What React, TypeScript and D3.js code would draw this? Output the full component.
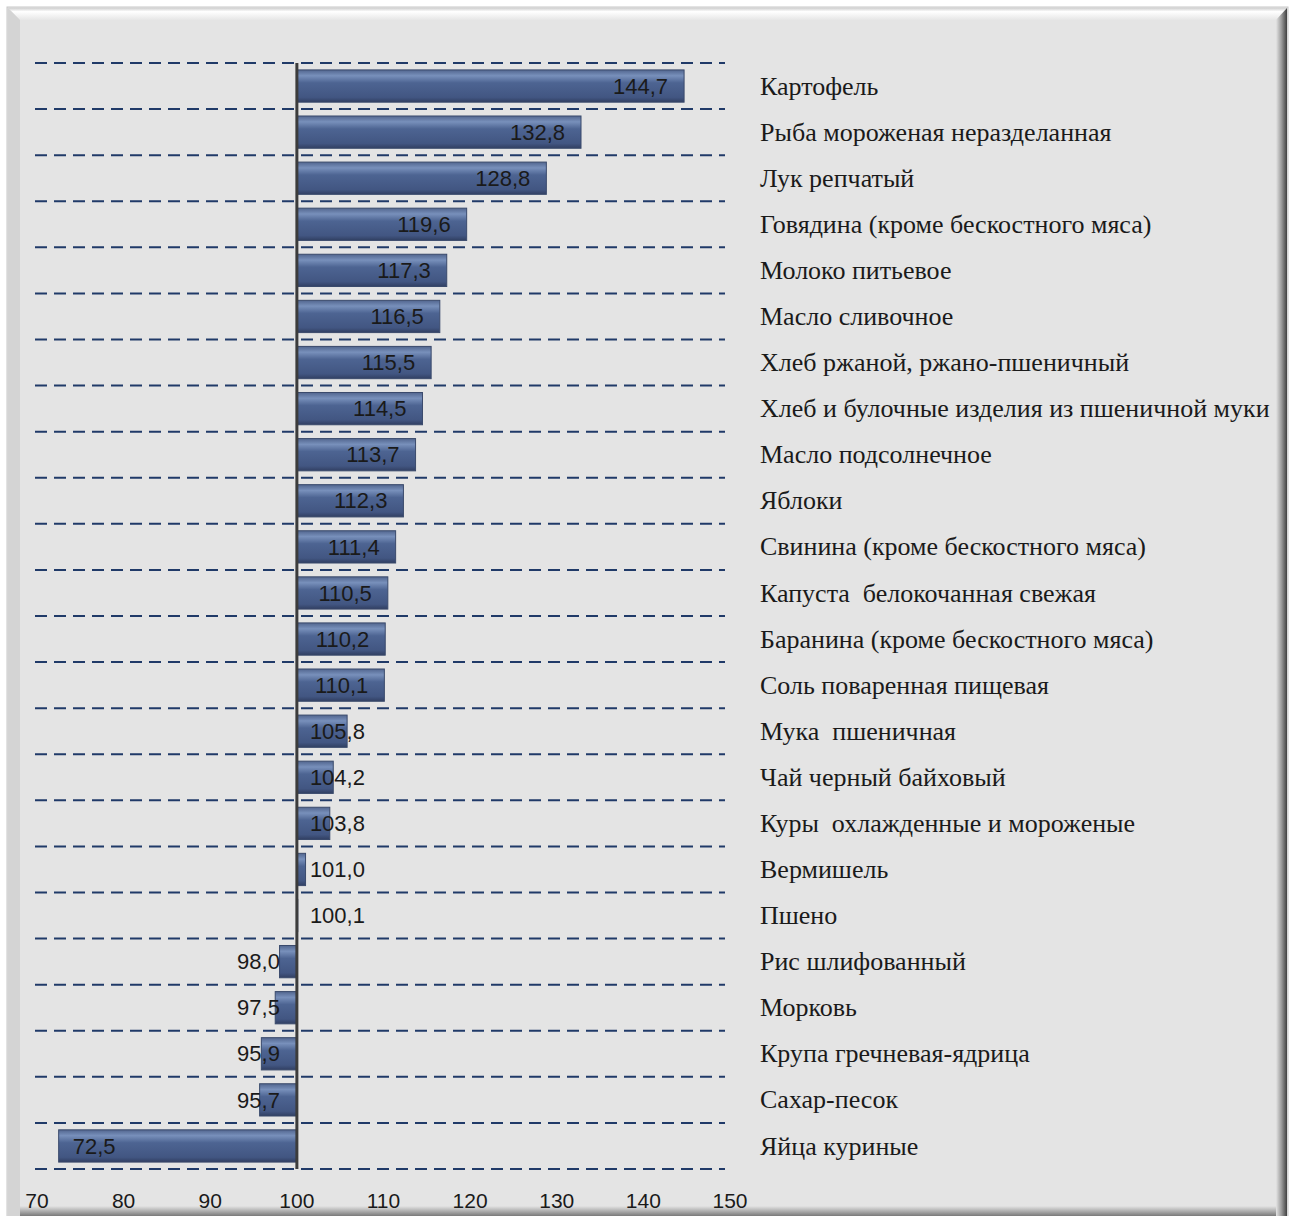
import React, { useEffect, useRef } from "react";
import * as d3 from "d3";

// categories, top to bottom
const categories = [
  "Картофель",
  "Рыба мороженая неразделанная",
  "Лук репчатый",
  "Говядина (кроме бескостного мяса)",
  "Молоко питьевое",
  "Масло сливочное",
  "Хлеб ржаной, ржано-пшеничный",
  "Хлеб и булочные изделия из пшеничной муки",
  "Масло подсолнечное",
  "Яблоки",
  "Свинина (кроме бескостного мяса)",
  "Капуста  белокочанная свежая",
  "Баранина (кроме бескостного мяса)",
  "Соль поваренная пищевая",
  "Мука  пшеничная",
  "Чай черный байховый",
  "Куры  охлажденные и мороженые",
  "Вермишель",
  "Пшено",
  "Рис шлифованный",
  "Морковь",
  "Крупа гречневая-ядрица",
  "Сахар-песок",
  "Яйца куриные",
];

const values = [
  144.7, 132.8, 128.8, 119.6, 117.3, 116.5, 115.5, 114.5, 113.7, 112.3, 111.4,
  110.5, 110.2, 110.1, 105.8, 104.2, 103.8, 101.0, 100.1, 98.0, 97.5, 95.9, 95.7,
  72.5,
];

const xTicks = [70, 80, 90, 100, 110, 120, 130, 140, 150];

const W = 1295;
const H = 1216;

export default function App() {
  const ref = useRef<SVGSVGElement>(null);

  useEffect(() => {
    const svg = d3.select(ref.current);
    svg.selectAll("*").remove();

    const defs = svg.append("defs");
    const grad = defs
      .append("linearGradient")
      .attr("id", "barGrad")
      .attr("x1", 0)
      .attr("y1", 0)
      .attr("x2", 0)
      .attr("y2", 1);
    grad.append("stop").attr("offset", "0%").attr("stop-color", "#52668f");
    grad.append("stop").attr("offset", "18%").attr("stop-color", "#7890bb");
    grad.append("stop").attr("offset", "40%").attr("stop-color", "#4d6492");
    grad.append("stop").attr("offset", "85%").attr("stop-color", "#425682");
    grad.append("stop").attr("offset", "100%").attr("stop-color", "#313f62");

    const topBev = defs
      .append("linearGradient")
      .attr("id", "topBev")
      .attr("x1", 0)
      .attr("y1", 0)
      .attr("x2", 0)
      .attr("y2", 1);
    topBev.append("stop").attr("offset", "0%").attr("stop-color", "#d0d0d0");
    topBev.append("stop").attr("offset", "30%").attr("stop-color", "#ffffff");
    topBev.append("stop").attr("offset", "100%").attr("stop-color", "#e6e6e6");

    const rightBev = defs
      .append("linearGradient")
      .attr("id", "rightBev")
      .attr("x1", 0)
      .attr("y1", 0)
      .attr("x2", 1)
      .attr("y2", 0);
    rightBev.append("stop").attr("offset", "0%").attr("stop-color", "#e4e4e4");
    rightBev.append("stop").attr("offset", "50%").attr("stop-color", "#9a9a9a");
    rightBev.append("stop").attr("offset", "100%").attr("stop-color", "#404040");

    const bottomBev = defs
      .append("linearGradient")
      .attr("id", "bottomBev")
      .attr("x1", 0)
      .attr("y1", 0)
      .attr("x2", 0)
      .attr("y2", 1);
    bottomBev.append("stop").attr("offset", "0%").attr("stop-color", "#e4e4e4");
    bottomBev.append("stop").attr("offset", "100%").attr("stop-color", "#7a7a7a");

    // frame
    svg.append("rect").attr("width", W).attr("height", H).attr("fill", "#ffffff");
    svg
      .append("rect")
      .attr("x", 7)
      .attr("y", 7)
      .attr("width", 1281)
      .attr("height", 1215)
      .attr("fill", "#e4e4e4")
      .attr("stroke", "#c8c8c8");
    svg.append("path").attr("d", "M8,8 L1287,8 L1276,20 L20,20 Z").attr("fill", "url(#topBev)");
    svg.append("path").attr("d", "M8,8 L20,20 L20,1216 L8,1216 Z").attr("fill", "#d4d4d4");
    svg.append("path").attr("d", "M1287,8 L1287,1216 L1276,1216 L1276,20 Z").attr("fill", "url(#rightBev)");
    svg.append("rect").attr("x", 20).attr("y", 1206).attr("width", 1256).attr("height", 10).attr("fill", "url(#bottomBev)");

    const x = d3.scaleLinear().domain([70, 150]).range([37, 730]);
    const y = d3
      .scaleBand<string>()
      .domain(categories)
      .range([63, 1169])
      .paddingInner(0.3)
      .paddingOuter(0.15);
    const step = y.step();

    // grid lines
    const gridYs = categories.map((c) => (y(c) as number) - step * 0.15);
    gridYs.push(1169);
    svg
      .append("g")
      .selectAll("line")
      .data(gridYs)
      .enter()
      .append("line")
      .attr("x1", x(70) - 2)
      .attr("x2", x(150) - 5)
      .attr("y1", (d) => d)
      .attr("y2", (d) => d)
      .attr("stroke", "#203a68")
      .attr("stroke-width", 2)
      .attr("stroke-dasharray", "12 7");

    // bars
    const data = categories.map((c, i) => ({ c, v: values[i] }));
    const bars = svg.append("g");
    bars
      .selectAll("rect")
      .data(data)
      .enter()
      .append("rect")
      .attr("x", (d) => Math.min(x(d.v), x(100)))
      .attr("y", (d) => y(d.c) as number)
      .attr("width", (d) => Math.abs(x(d.v) - x(100)))
      .attr("height", y.bandwidth())
      .attr("fill", "url(#barGrad)")
      .attr("stroke", "#3a4a6c")
      .attr("stroke-width", 1);

    // baseline
    svg
      .append("line")
      .attr("x1", x(100))
      .attr("x2", x(100))
      .attr("y1", 63)
      .attr("y2", 1169)
      .attr("stroke", "#3c3c3c")
      .attr("stroke-width", 3);

    // value labels
    const numFont = "'Liberation Sans Narrow', 'Liberation Sans', sans-serif";
    const fmt = (v: number) => v.toFixed(1).replace(".", ",");
    const labels = svg.append("g").attr("font-family", numFont).attr("font-size", 22).attr("fill", "#1a1a1a");
    data.forEach((d) => {
      const t = labels
        .append("text")
        .attr("y", (y(d.c) as number) + y.bandwidth() / 2)
        .attr("dy", "0.35em")
        .text(fmt(d.v));
      const tw = (t.node() as SVGTextElement).getComputedTextLength();
      if (d.v >= 100) {
        const xe = Math.max(x(d.v) - 16, x(100) + 13 + tw);
        t.attr("x", xe).attr("text-anchor", "end");
      } else {
        const xs = Math.min(x(d.v) + 14, x(100) - 17 - tw);
        t.attr("x", xs).attr("text-anchor", "start");
      }
    });

    // category labels
    svg
      .append("g")
      .attr("font-family", "'Liberation Serif', 'Times New Roman', serif")
      .attr("font-size", 26)
      .attr("fill", "#1a1a1a")
      .selectAll("text")
      .data(categories)
      .enter()
      .append("text")
      .attr("x", 760)
      .attr("y", (c) => (y(c) as number) + y.bandwidth() / 2)
      .attr("dy", "0.33em")
      .attr("xml:space", "preserve")
      .style("white-space", "pre")
      .text((c) => c);

    // x axis labels
    svg
      .append("g")
      .attr("font-family", numFont)
      .attr("font-size", 21)
      .attr("fill", "#1a1a1a")
      .attr("text-anchor", "middle")
      .selectAll("text")
      .data(xTicks)
      .enter()
      .append("text")
      .attr("x", (d) => x(d))
      .attr("y", 1201)
      .attr("dy", "0.35em")
      .text((d) => d);
  }, []);

  return (
    <svg
      ref={ref}
      width={W}
      height={H}
      style={{ position: "absolute", left: 0, top: 0, display: "block" }}
    />
  );
}
